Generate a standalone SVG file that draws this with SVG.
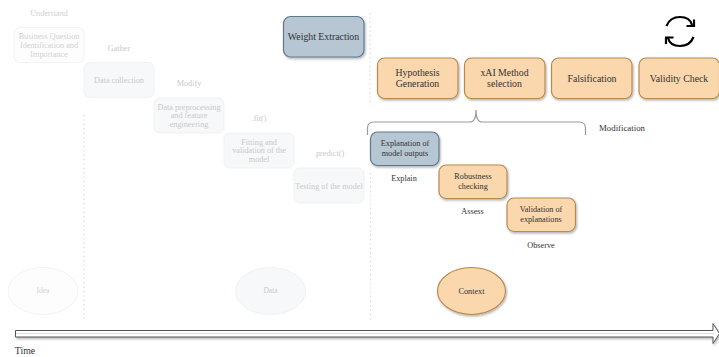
<svg xmlns="http://www.w3.org/2000/svg" width="719" height="357" viewBox="0 0 719 357">
<style>
text{font-family:"Liberation Serif","DejaVu Serif",serif;text-anchor:middle;fill:#333}
.f{fill:#f7f8fa;stroke:#f0f1f3;stroke-width:1}
.f0{fill:#fdfdfd;stroke:#f3f3f3;stroke-width:1}
.ft{fill:#c8c9cb;font-size:8.2px}
.ft0{fill:#d2d2d2;font-size:8.200px}
.o{fill:#fad7ac;stroke:#b98a50;stroke-width:1.2;filter:url(#s)}
.b{fill:#b6c6d2;stroke:#5f7a8d;stroke-width:1.2;filter:url(#s)}
.l{font-size:8.200px}
.m{font-size:9.800px}
.d{fill:none;stroke:#d4d4d4;stroke-width:1.2;stroke-dasharray:1.2 3.2}
</style>
<defs>
<filter id="s" x="-10%" y="-10%" width="125%" height="130%"><feDropShadow dx="1" dy="1.5" stdDeviation="0.8" flood-color="#000" flood-opacity="0.3"/></filter>
</defs>
<g id="connectors">
<path class="d" d="M84 115V320"/>
<path class="d" d="M370 13V106"/>
<path class="d" d="M370.500 173V320"/>
<path d="M367.500 135V128Q367.500 122 374 122H470Q476 122 476 110Q476 122 482 122H579Q585.500 122 585.500 128V135" fill="none" stroke="#9a9a9a" stroke-width="1.200"/>
<path d="M15.500 330.500H713V323.500L719.500 333.500L713 343.500V337H15.500Z" fill="#fff" stroke="#555" stroke-width="1" filter="url(#s)"/>
<path d="M16 333.500H714" stroke="#ddd" stroke-width="1"/>
</g>
<g id="understand"><text class="ft0" x="49" y="15.500">Understand</text></g>
<g id="business"><rect class="f0" x="14" y="27.500" width="70" height="35" rx="6"/><text class="ft0" x="49" y="39">Business Question</text><text class="ft0" x="49" y="48">Identification and</text><text class="ft0" x="49" y="57">Importance</text></g>
<g id="gather"><text class="ft" x="119" y="50.500">Gather</text></g>
<g id="collection"><rect class="f" x="84" y="62.500" width="70" height="35" rx="6"/><text class="ft" x="119" y="83">Data collection</text></g>
<g id="modify"><text class="ft" x="189" y="86">Modify</text></g>
<g id="preprocessing"><rect class="f" x="154" y="98" width="70" height="35" rx="6"/><text class="ft" x="189" y="109.500">Data preprocessing</text><text class="ft" x="189" y="118">and feature</text><text class="ft" x="189" y="127">engineering</text></g>
<g id="fit-label"><text class="ft" x="259" y="121">.fit()</text></g>
<g id="fitting"><rect class="f" x="224" y="133" width="70" height="35" rx="6"/><text class="ft" x="259" y="144.500">Fitting and</text><text class="ft" x="259" y="153">validation of the</text><text class="ft" x="259" y="162">model</text></g>
<g id="predict-label"><text class="ft" x="329" y="156">.predict()</text></g>
<g id="testing"><rect class="f" x="294" y="168" width="70" height="35" rx="6"/><text class="ft" x="329" y="188.500">Testing of the model</text></g>
<g id="weight"><rect class="b" x="283.500" y="16.500" width="80.500" height="40.500" rx="7"/><text class="m" x="323.500" y="39.500">Weight Extraction</text></g>
<g id="hypothesis"><rect class="o" x="377.500" y="58" width="80.500" height="40.500" rx="7"/><text class="m" x="417.500" y="76">Hypothesis</text><text class="m" x="417.500" y="87">Generation</text></g>
<g id="xai"><rect class="o" x="464.500" y="58" width="80.500" height="40.500" rx="7"/><text class="m" x="504.500" y="76">xAI Method</text><text class="m" x="504.500" y="87">selection</text></g>
<g id="falsification"><rect class="o" x="551.500" y="58" width="80.500" height="40.500" rx="7"/><text class="m" x="592" y="81.500">Falsification</text></g>
<g id="validity"><rect class="o" x="639" y="58" width="80.500" height="40.500" rx="7"/><text class="m" x="679" y="81.500">Validity Check</text></g>
<g id="refresh" fill="none" stroke="#000" stroke-width="2.200">
<path d="M666.500 26Q670 17 680 17Q690 17 692 25"/><path d="M694 19.500V26H686.500"/>
<path d="M693.500 37Q690 46 680 46Q670 46 668 38"/><path d="M666 44V37.500H673.500"/>
</g>
<g id="modification"><text class="l" style="font-size:8.800px" x="622" y="131">Modification</text></g>
<g id="explanation"><rect class="b" x="370.500" y="132" width="68.500" height="33.500" rx="7"/><text class="l" x="405" y="146">Explanation of</text><text class="l" x="405" y="155.500">model outputs</text></g>
<g id="explain"><text class="l" x="404" y="181">Explain</text></g>
<g id="robustness"><rect class="o" x="439" y="165" width="68" height="33.500" rx="7"/><text class="l" x="473" y="179">Robustness</text><text class="l" x="473" y="189">checking</text></g>
<g id="assess"><text class="l" x="472.500" y="214">Assess</text></g>
<g id="validation"><rect class="o" x="507" y="198" width="68.500" height="33.500" rx="7"/><text class="l" x="541" y="212">Validation of</text><text class="l" x="541" y="222">explanations</text></g>
<g id="observe"><text class="l" x="541" y="248">Observe</text></g>
<g id="idea"><ellipse class="f0" cx="43" cy="291" rx="35" ry="23.500"/><text class="ft0" style="font-size:7.500px" x="43" y="293">Idea</text></g>
<g id="data"><ellipse class="f" cx="270.500" cy="291" rx="35" ry="23.500"/><text class="ft" style="font-size:7.500px" x="270.500" y="293">Data</text></g>
<g id="context"><ellipse class="o" cx="471.500" cy="291" rx="34" ry="23.500"/><text class="l" x="471.500" y="294">Context</text></g>
<g id="time"><text class="m" x="25" y="354">Time</text></g>
</svg>
